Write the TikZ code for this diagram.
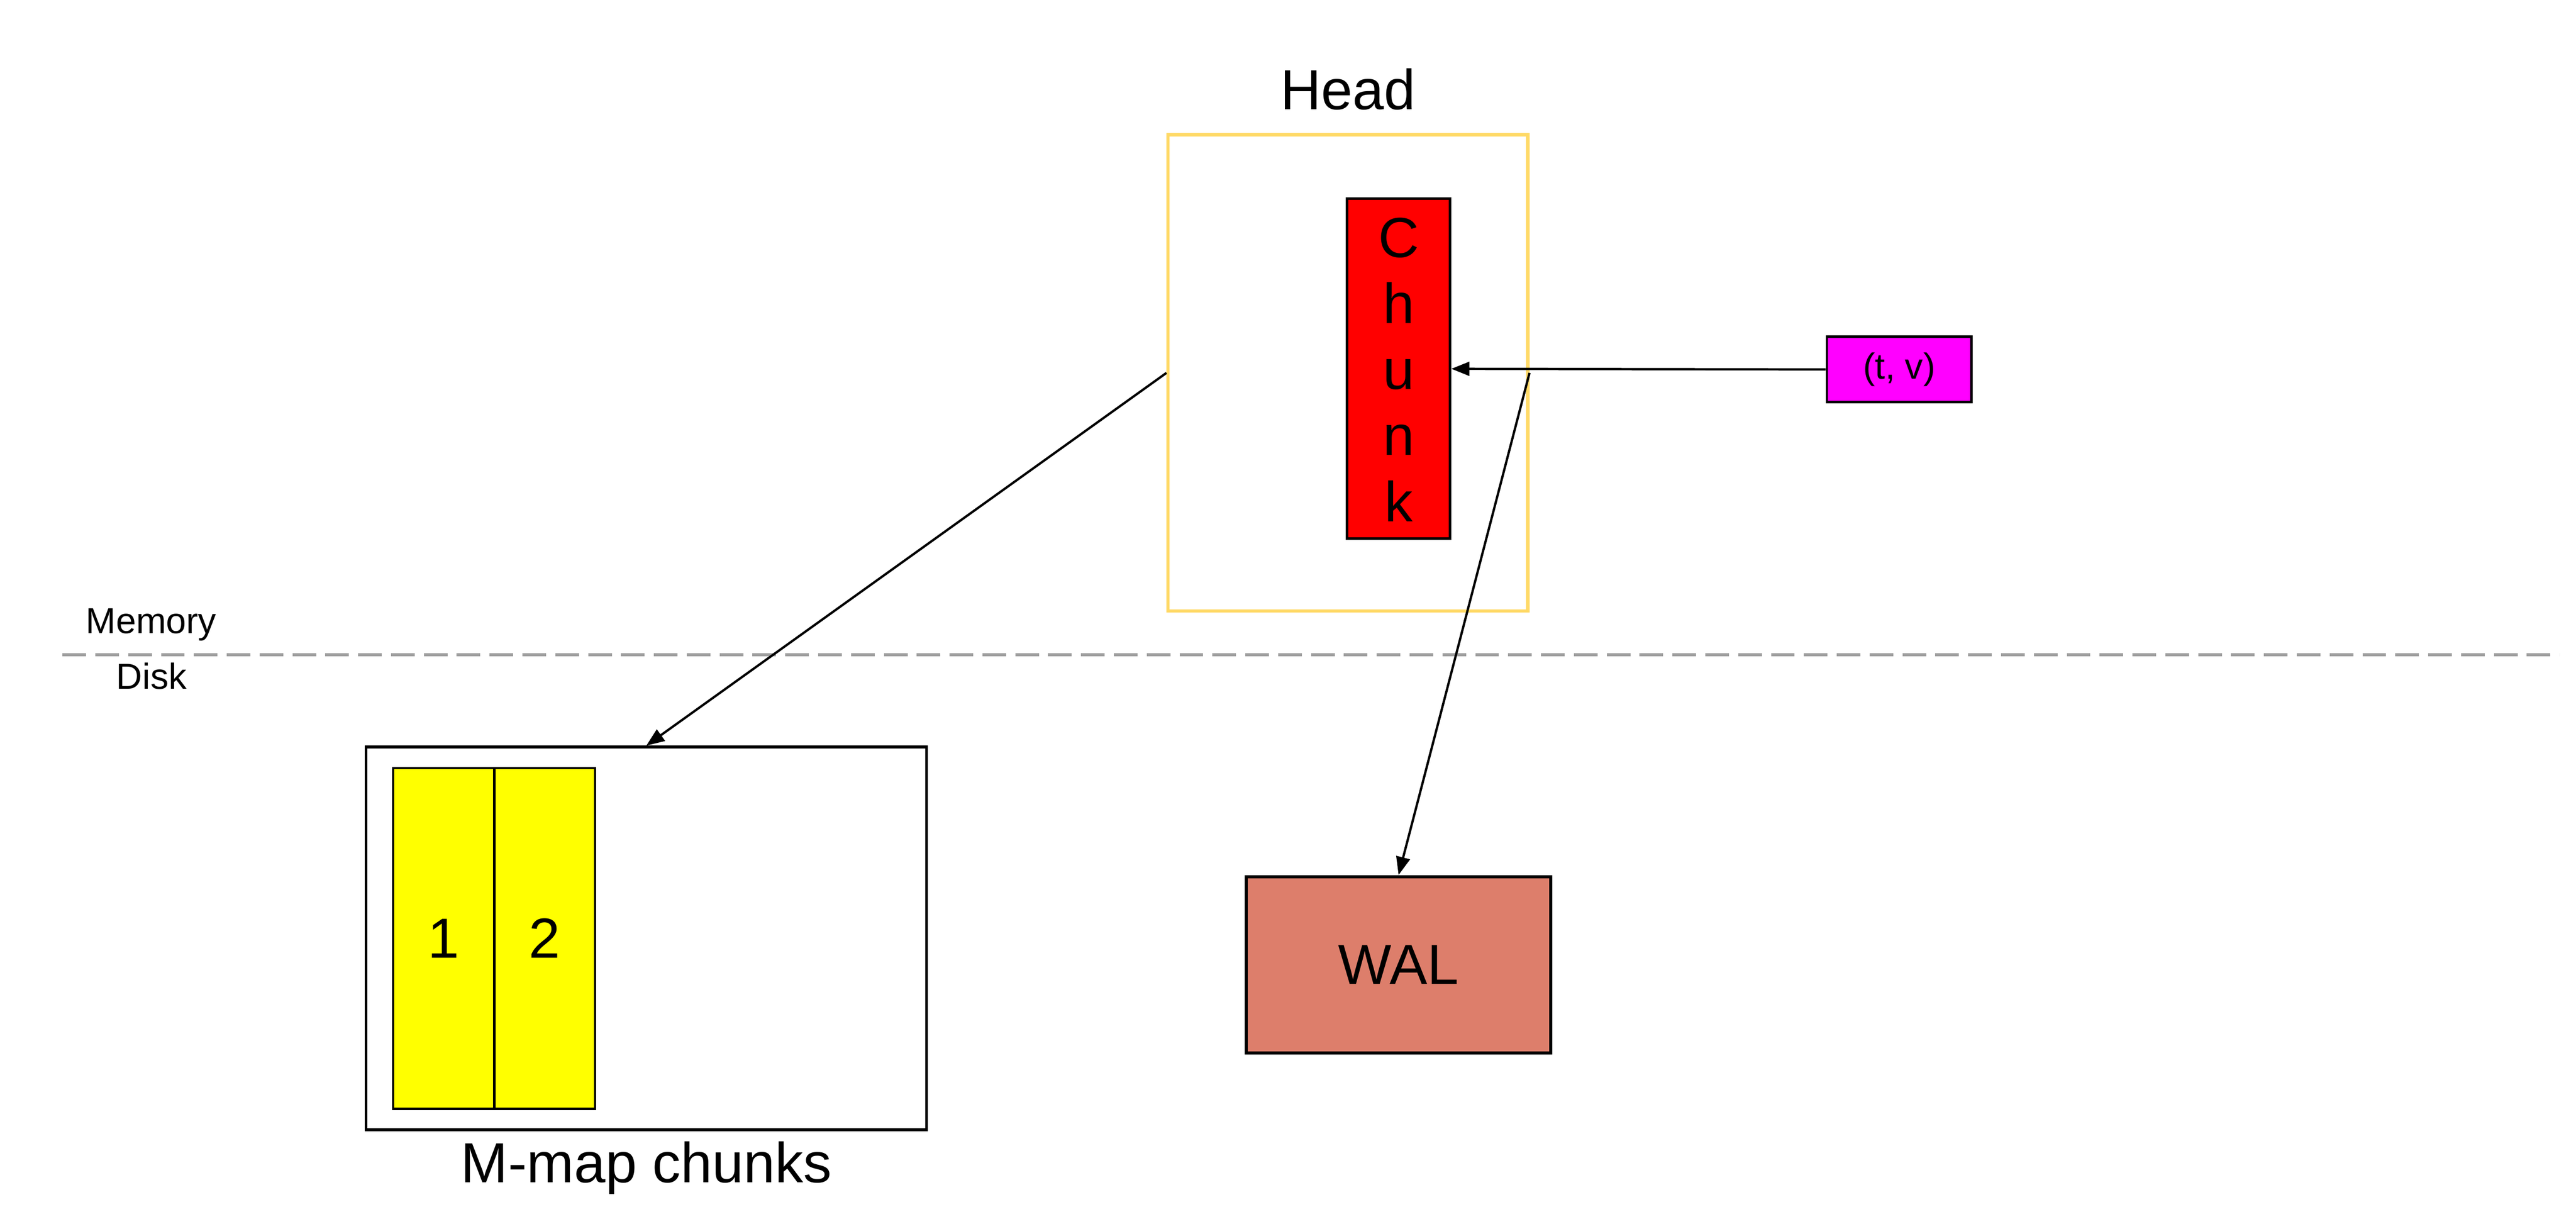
\documentclass[tikz,border=0pt]{standalone}
\usepackage{fontspec}
\setmainfont{Liberation Sans}
\usetikzlibrary{arrows.meta}
\definecolor{headline}{HTML}{FFD966}
\definecolor{walfill}{HTML}{DD7E6B}
\definecolor{chunkred}{HTML}{FF0000}
\definecolor{tvfill}{HTML}{FF00FF}
\definecolor{mmfill}{HTML}{FFFF00}
\definecolor{divgray}{HTML}{9E9E9E}
\begin{document}
\begin{tikzpicture}[x=0.5pt,y=-0.5pt,
  box/.style={draw=black, line width=0.8pt, inner sep=0pt, rectangle},
  big/.style={font=\fontsize{17.2}{20.1}\selectfont},
  small/.style={font=\fontsize{11}{13}\selectfont},
  conn/.style={line width=0.7pt, -{Triangle[length=5.5pt,width=4.2pt]}},
]
\useasboundingbox[fill=white] (0,0) rectangle (1568,745);

% divider
\coordinate (dl) at (38,398.5);
\coordinate (dr) at (1558,398.5);
\draw[divgray, line width=1pt, dash pattern=on 7.2pt off 2.8pt] (dl) -- (dr);
\node[small, anchor=base] (memlabel) at (92,385.6) {Memory};
\node[small, anchor=base] (disklabel) at (92.2,419.3) {Disk};

% head
\node[box, draw=headline, line width=1pt, minimum width=109.5pt, minimum height=145pt] (head) at (820.5,227) {};
\node[big, anchor=base] (headlabel) at (820.5,66.6) {Head};
\node[box, fill=chunkred, minimum width=31.3pt, minimum height=103.5pt] (chunk) at (851.3,224.5) {};
\node[big, align=center, inner sep=0pt] (chunktext) at (851.3,225) {C\\h\\u\\n\\k};

% sample
\node[box, line width=0.75pt, fill=tvfill, small, minimum width=44pt, minimum height=19.85pt] (tv) at (1156,224.9) {(t, v)};

% m-map
\node[box, minimum width=170.6pt, minimum height=116.5pt] (mmap) at (393.4,571.2) {};
\node[box, line width=0.75pt, fill=mmfill, big, minimum width=30.75pt, minimum height=103.65pt] (mm1) at (270,571.25) {1};
\node[box, line width=0.75pt, fill=mmfill, big, minimum width=30.7pt, minimum height=103.65pt] (mm2) at (331.5,571.25) {2};
\node[big, anchor=base] (mmlabel) at (393.4,719.8) {M-map chunks};

% wal
\node[box, line width=0.95pt, fill=walfill, big, minimum width=92.7pt, minimum height=53.65pt] (wal) at (851.3,587.25) {WAL};

% connectors
\draw[conn] (tv.west) -- (chunk.east);
\draw[conn] (head.west) -- (mmap.north);
\draw[conn] (head.east) -- (wal.north);
\end{tikzpicture}
\end{document}
